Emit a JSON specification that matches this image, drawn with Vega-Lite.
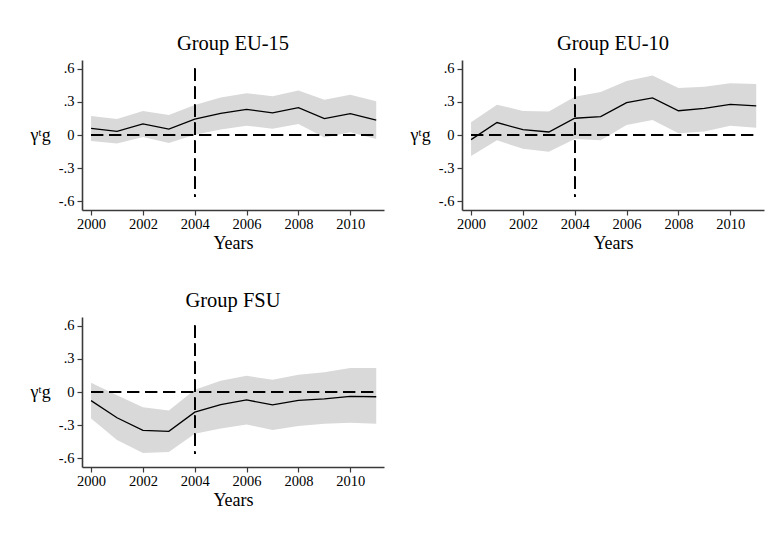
{
  "$schema": "https://vega.github.io/schema/vega-lite/v6.json",
  "background": "white",
  "padding": {"left": 29, "top": 33, "right": 5, "bottom": 5},
  "config": {
    "view": {"stroke": null},
    "font": "Liberation Serif",
    "axis": {
      "grid": false,
      "domainColor": "#3a3a3a",
      "domainWidth": 1.6,
      "tickColor": "#3a3a3a",
      "tickWidth": 1.2,
      "tickSize": 5,
      "labelFont": "Liberation Serif",
      "labelFontSize": 14.5,
      "labelColor": "black",
      "labelOverlap": false,
      "titleFont": "Liberation Serif",
      "titleFontWeight": "normal",
      "titleColor": "black"
    },
    "title": {"font": "Liberation Serif", "fontSize": 20.5, "fontWeight": "normal", "color": "black", "offset": 6, "anchor": "middle"}
  },
  "data": {
    "values": [
      {"group": "EU-15", "year": 2000, "est": 0.060, "lo": -0.054, "hi": 0.173},
      {"group": "EU-15", "year": 2001, "est": 0.033, "lo": -0.078, "hi": 0.146},
      {"group": "EU-15", "year": 2002, "est": 0.100, "lo": -0.018, "hi": 0.218},
      {"group": "EU-15", "year": 2003, "est": 0.054, "lo": -0.072, "hi": 0.182},
      {"group": "EU-15", "year": 2004, "est": 0.143, "lo": 0.002, "hi": 0.272},
      {"group": "EU-15", "year": 2005, "est": 0.197, "lo": 0.050, "hi": 0.340},
      {"group": "EU-15", "year": 2006, "est": 0.233, "lo": 0.084, "hi": 0.379},
      {"group": "EU-15", "year": 2007, "est": 0.200, "lo": 0.057, "hi": 0.352},
      {"group": "EU-15", "year": 2008, "est": 0.248, "lo": 0.099, "hi": 0.403},
      {"group": "EU-15", "year": 2009, "est": 0.149, "lo": -0.022, "hi": 0.320},
      {"group": "EU-15", "year": 2010, "est": 0.193, "lo": 0.025, "hi": 0.364},
      {"group": "EU-15", "year": 2011, "est": 0.134, "lo": -0.037, "hi": 0.305},
      {"group": "EU-10", "year": 2000, "est": -0.042, "lo": -0.190, "hi": 0.116},
      {"group": "EU-10", "year": 2001, "est": 0.113, "lo": -0.048, "hi": 0.275},
      {"group": "EU-10", "year": 2002, "est": 0.048, "lo": -0.125, "hi": 0.218},
      {"group": "EU-10", "year": 2003, "est": 0.027, "lo": -0.152, "hi": 0.212},
      {"group": "EU-10", "year": 2004, "est": 0.152, "lo": -0.037, "hi": 0.346},
      {"group": "EU-10", "year": 2005, "est": 0.167, "lo": -0.048, "hi": 0.391},
      {"group": "EU-10", "year": 2006, "est": 0.293, "lo": 0.090, "hi": 0.490},
      {"group": "EU-10", "year": 2007, "est": 0.337, "lo": 0.137, "hi": 0.540},
      {"group": "EU-10", "year": 2008, "est": 0.220, "lo": 0.016, "hi": 0.426},
      {"group": "EU-10", "year": 2009, "est": 0.242, "lo": 0.031, "hi": 0.438},
      {"group": "EU-10", "year": 2010, "est": 0.277, "lo": 0.084, "hi": 0.469},
      {"group": "EU-10", "year": 2011, "est": 0.264, "lo": 0.065, "hi": 0.463},
      {"group": "FSU", "year": 2000, "est": -0.078, "lo": -0.240, "hi": 0.084},
      {"group": "FSU", "year": 2001, "est": -0.234, "lo": -0.435, "hi": -0.030},
      {"group": "FSU", "year": 2002, "est": -0.348, "lo": -0.553, "hi": -0.138},
      {"group": "FSU", "year": 2003, "est": -0.357, "lo": -0.543, "hi": -0.168},
      {"group": "FSU", "year": 2004, "est": -0.183, "lo": -0.378, "hi": 0.021},
      {"group": "FSU", "year": 2005, "est": -0.114, "lo": -0.330, "hi": 0.102},
      {"group": "FSU", "year": 2006, "est": -0.072, "lo": -0.294, "hi": 0.147},
      {"group": "FSU", "year": 2007, "est": -0.117, "lo": -0.345, "hi": 0.111},
      {"group": "FSU", "year": 2008, "est": -0.075, "lo": -0.309, "hi": 0.156},
      {"group": "FSU", "year": 2009, "est": -0.062, "lo": -0.288, "hi": 0.180},
      {"group": "FSU", "year": 2010, "est": -0.040, "lo": -0.279, "hi": 0.217},
      {"group": "FSU", "year": 2011, "est": -0.043, "lo": -0.288, "hi": 0.217}
    ]
  },
  "spacing": 37,
  "vconcat": [
    {
      "spacing": 25,
      "hconcat": [
        {
          "title": "Group EU-15",
          "width": 302, "height": 150,
          "transform": [{"filter": "datum.group === 'EU-15'"}],
          "encoding": {
            "x": {"field": "year", "type": "quantitative", "scale": {"domain": [1999.65, 2011.3], "nice": false, "zero": false},
                  "axis": {"values": [2000, 2002, 2004, 2006, 2008, 2010], "format": "d", "title": "Years", "titleFontSize": 18, "titlePadding": 4, "labelPadding": 2, "labelFontSize": 14.5}},
            "y": {"field": "est", "type": "quantitative", "scale": {"domain": [-0.68, 0.68], "nice": false},
                  "axis": {"values": [-0.6, -0.3, 0, 0.3, 0.6], "labelExpr": "datum.value == 0 ? '0' : (datum.value < 0 ? '-' : '') + '.' + round(abs(datum.value) * 10)", "title": "γᵗg", "titleAngle": 0, "titleFontSize": 18, "titleBaseline": "middle", "titleAlign": "right", "titlePadding": 8, "labelPadding": 3, "labelFontSize": 14.5}}
          },
          "layer": [
            {"mark": {"type": "area", "color": "#d9d9d9", "opacity": 1},
             "encoding": {"y": {"field": "lo", "type": "quantitative"}, "y2": {"field": "hi"}}},
            {"mark": {"type": "rule", "color": "black", "strokeWidth": 1.2, "strokeDash": [12, 6]},
             "encoding": {"x": {"datum": 2000}, "x2": {"datum": 2011}, "y": {"datum": 0}}},
            {"mark": {"type": "rule", "color": "black", "strokeWidth": 1.2, "strokeDash": [12, 6]},
             "encoding": {"x": {"datum": 2004}, "y": {"datum": 0.6}, "y2": {"datum": -0.56}}},
            {"mark": {"type": "line", "color": "black", "strokeWidth": 1.3}, "encoding": {}}
          ]
        },
        {
          "title": "Group EU-10",
          "width": 302, "height": 150,
          "transform": [{"filter": "datum.group === 'EU-10'"}],
          "encoding": {
            "x": {"field": "year", "type": "quantitative", "scale": {"domain": [1999.65, 2011.3], "nice": false, "zero": false},
                  "axis": {"values": [2000, 2002, 2004, 2006, 2008, 2010], "format": "d", "title": "Years", "titleFontSize": 18, "titlePadding": 4, "labelPadding": 2, "labelFontSize": 14.5}},
            "y": {"field": "est", "type": "quantitative", "scale": {"domain": [-0.68, 0.68], "nice": false},
                  "axis": {"values": [-0.6, -0.3, 0, 0.3, 0.6], "labelExpr": "datum.value == 0 ? '0' : (datum.value < 0 ? '-' : '') + '.' + round(abs(datum.value) * 10)", "title": "γᵗg", "titleAngle": 0, "titleFontSize": 18, "titleBaseline": "middle", "titleAlign": "right", "titlePadding": 8, "labelPadding": 3, "labelFontSize": 14.5}}
          },
          "layer": [
            {"mark": {"type": "area", "color": "#d9d9d9", "opacity": 1},
             "encoding": {"y": {"field": "lo", "type": "quantitative"}, "y2": {"field": "hi"}}},
            {"mark": {"type": "rule", "color": "black", "strokeWidth": 1.2, "strokeDash": [12, 6]},
             "encoding": {"x": {"datum": 2000}, "x2": {"datum": 2011}, "y": {"datum": 0}}},
            {"mark": {"type": "rule", "color": "black", "strokeWidth": 1.2, "strokeDash": [12, 6]},
             "encoding": {"x": {"datum": 2004}, "y": {"datum": 0.6}, "y2": {"datum": -0.56}}},
            {"mark": {"type": "line", "color": "black", "strokeWidth": 1.3}, "encoding": {}}
          ]
        }
      ]
    },
    {
      "title": "Group FSU",
      "width": 302, "height": 150,
      "transform": [{"filter": "datum.group === 'FSU'"}],
      "encoding": {
        "x": {"field": "year", "type": "quantitative", "scale": {"domain": [1999.65, 2011.3], "nice": false, "zero": false},
              "axis": {"values": [2000, 2002, 2004, 2006, 2008, 2010], "format": "d", "title": "Years", "titleFontSize": 18, "titlePadding": 4, "labelPadding": 2, "labelFontSize": 14.5}},
        "y": {"field": "est", "type": "quantitative", "scale": {"domain": [-0.68, 0.68], "nice": false},
              "axis": {"values": [-0.6, -0.3, 0, 0.3, 0.6], "labelExpr": "datum.value == 0 ? '0' : (datum.value < 0 ? '-' : '') + '.' + round(abs(datum.value) * 10)", "title": "γᵗg", "titleAngle": 0, "titleFontSize": 18, "titleBaseline": "middle", "titleAlign": "right", "titlePadding": 8, "labelPadding": 3, "labelFontSize": 14.5}}
      },
      "layer": [
        {"mark": {"type": "area", "color": "#d9d9d9", "opacity": 1},
         "encoding": {"y": {"field": "lo", "type": "quantitative"}, "y2": {"field": "hi"}}},
        {"mark": {"type": "rule", "color": "black", "strokeWidth": 1.2, "strokeDash": [12, 6]},
         "encoding": {"x": {"datum": 2000}, "x2": {"datum": 2011}, "y": {"datum": 0}}},
        {"mark": {"type": "rule", "color": "black", "strokeWidth": 1.2, "strokeDash": [12, 6]},
         "encoding": {"x": {"datum": 2004}, "y": {"datum": 0.6}, "y2": {"datum": -0.56}}},
        {"mark": {"type": "line", "color": "black", "strokeWidth": 1.3}, "encoding": {}}
      ]
    }
  ]
}
